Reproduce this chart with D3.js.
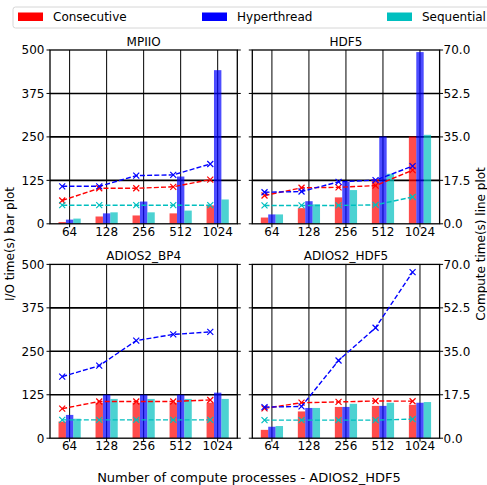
<!DOCTYPE html>
<html>
<head>
<meta charset="utf-8">
<script src="https://cdn.jsdelivr.net/npm/d3@7"></script>
<style>
  body { margin: 0; background: #fff; }
  text { font-family: "DejaVu Sans", sans-serif; font-size: 12px; fill: #000; }
</style>
</head>
<body>
<div id="chart"></div>
<script>
// categories and series
const categories = ["64", "128", "256", "512", "1024"];
const seriesNames = ["Consecutive", "Hyperthread", "Sequential"];
const seriesColors = ["#ff0000", "#0000ff", "#00bfbf"];
const panelTitles = ["MPIIO", "HDF5", "ADIOS2_BP4", "ADIOS2_HDF5"];

// I/O time (bars, left axis) per series: Consecutive, Hyperthread, Sequential
const mpiioIO = [[5, 21, 24, 30, 53], [12, 30, 64, 136, 442], [15, 33, 33, 38, 70]];
const hdf5IO = [[18, 45, 76, 129, 251], [27, 65, 121, 251, 494], [27, 56, 97, 144, 256]];
const bp4IO = [[48, 102, 102, 102, 102], [67, 125, 125, 125, 131], [56, 113, 113, 113, 113]];
const adiosHdf5IO = [[24, 77, 90, 93, 96], [33, 87, 90, 93, 102], [35, 87, 99, 102, 104]];

// compute time (lines, right axis)
const mpiioCompute = [[9.4, 14.3, 14.3, 14.9, 17.8], [15.1, 15.1, 19.4, 19.7, 24.1], [7.5, 7.5, 7.5, 7.5, 7.5]];
const hdf5Compute = [[11.4, 14.5, 14.7, 15.4, 21.6], [12.7, 13.0, 16.9, 17.6, 23.2], [7.4, 7.4, 7.4, 7.6, 10.8]];
const bp4Compute = [[11.9, 14.8, 14.8, 14.8, 15.4], [24.8, 29.2, 39.3, 41.8, 42.8], [7.4, 7.4, 7.4, 7.4, 7.4]];
const adiosHdf5Compute = [[12.0, 14.3, 14.6, 15.0, 14.9], [12.5, 12.8, 31.3, 44.5, 66.9], [7.3, 7.3, 7.3, 7.3, 7.7]];

const leftTicks = [0, 125, 250, 375, 500];
const rightTicks = [0, 17.5, 35, 52.5, 70];

const ioData = [mpiioIO, hdf5IO, bp4IO, adiosHdf5IO];
const computeData = [mpiioCompute, hdf5Compute, bp4Compute, adiosHdf5Compute];

const width = 487, height = 485;
const colX = [50, 252.3], rowY = [50, 264.4];
const pw = 187.3, ph = 173.8;
const barW = 0.2;

const svg = d3.select("#chart").append("svg")
    .attr("width", width)
    .attr("height", height);

svg.append("rect").attr("width", width).attr("height", height).attr("fill", "#fff");

panelTitles.forEach((title, p) => {
    const col = p % 2, row = Math.floor(p / 2);
    const x0 = colX[col], y0 = rowY[row];

    const x = d3.scaleLinear().domain([-0.53, 4.53]).range([0, pw]);
    const yBar = d3.scaleLinear().domain([0, 500]).range([ph, 0]);
    const yLine = d3.scaleLinear().domain([0, 70]).range([ph, 0]);

    const g = svg.append("g").attr("transform", `translate(${x0},${y0})`);

    // grid
    g.selectAll("line.vgrid")
        .data(categories)
        .join("line")
        .attr("x1", (d, i) => x(i)).attr("x2", (d, i) => x(i))
        .attr("y1", 0).attr("y2", ph)
        .attr("stroke", "#000").attr("stroke-width", 1);

    g.selectAll("line.hgrid")
        .data(leftTicks.slice(1, -1))
        .join("line")
        .attr("x1", 0).attr("x2", pw)
        .attr("y1", d => yBar(d)).attr("y2", d => yBar(d))
        .attr("stroke", "#000").attr("stroke-width", 1.6);

    // bars
    ioData[p].forEach((vals, s) => {
        g.append("g").selectAll("rect")
            .data(vals)
            .join("rect")
            .attr("x", (d, i) => x(i + (s - 1) * barW - barW / 2))
            .attr("width", x(barW) - x(0))
            .attr("y", d => yBar(d))
            .attr("height", d => ph - yBar(d))
            .attr("fill", seriesColors[s])
            .attr("fill-opacity", 0.7);
    });

    // frame
    g.append("rect")
        .attr("width", pw).attr("height", ph)
        .attr("fill", "none").attr("stroke", "#000").attr("stroke-width", 1.3);

    // ticks both sides
    leftTicks.forEach(t => {
        g.append("line").attr("x1", -3.5).attr("x2", 0)
            .attr("y1", yBar(t)).attr("y2", yBar(t))
            .attr("stroke", "#000").attr("stroke-width", 1);
        g.append("line").attr("x1", pw).attr("x2", pw + 3.5)
            .attr("y1", yBar(t)).attr("y2", yBar(t))
            .attr("stroke", "#000").attr("stroke-width", 1);
    });
    categories.forEach((c, i) => {
        g.append("line").attr("x1", x(i)).attr("x2", x(i))
            .attr("y1", ph).attr("y2", ph + 3.5)
            .attr("stroke", "#000").attr("stroke-width", 1);
        g.append("text").attr("x", x(i)).attr("y", ph + 12)
            .attr("text-anchor", "middle").text(c);
    });

    if (col === 0) {
        leftTicks.forEach(t => {
            g.append("text").attr("x", -5.5).attr("y", yBar(t)).attr("dy", "0.36em")
                .attr("text-anchor", "end").text(t);
        });
    } else {
        rightTicks.forEach(t => {
            g.append("text").attr("x", pw + 4).attr("y", yLine(t)).attr("dy", "0.36em")
                .attr("text-anchor", "start").text(d3.format(".1f")(t));
        });
    }

    // lines
    const line = d3.line().x((d, i) => x(i - barW)).y(d => yLine(d));
    computeData[p].forEach((vals, s) => {
        g.append("path")
            .attr("d", line(vals))
            .attr("fill", "none")
            .attr("stroke", seriesColors[s])
            .attr("stroke-width", 1.4)
            .attr("stroke-dasharray", "5,2.2");
        g.append("g").selectAll("path")
            .data(vals)
            .join("path")
            .attr("transform", (d, i) => `translate(${x(i - barW)},${yLine(d)})`)
            .attr("d", "M-3,-3L3,3M-3,3L3,-3")
            .attr("stroke", seriesColors[s])
            .attr("stroke-width", 1.2);
    });

    g.append("text").attr("x", pw / 2).attr("y", -4)
        .attr("text-anchor", "middle").text(title);
});

// legend
const legend = svg.append("g");
legend.append("rect")
    .attr("x", 13).attr("y", 7).attr("width", 485).attr("height", 21)
    .attr("rx", 2.5)
    .attr("fill", "#fff").attr("stroke", "#d6d6d6").attr("stroke-width", 1);
const legendX = [18, 202, 387];
seriesNames.forEach((name, s) => {
    legend.append("rect").attr("x", legendX[s]).attr("y", 12.5)
        .attr("width", 25).attr("height", 8.5).attr("fill", seriesColors[s]);
    legend.append("text").attr("x", legendX[s] + 35).attr("y", 21.3).text(name);
});

// axis labels
svg.append("text")
    .attr("transform", "translate(14,244) rotate(-90)")
    .attr("text-anchor", "middle").text("I/O time(s) bar plot");
svg.append("text")
    .attr("transform", "translate(485,244) rotate(-90)")
    .attr("text-anchor", "middle").text("Compute time(s) line plot");
svg.append("text")
    .attr("x", 249).attr("y", 482)
    .attr("text-anchor", "middle")
    .style("font-size", "13px")
    .text("Number of compute processes - ADIOS2_HDF5");
</script>
</body>
</html>
